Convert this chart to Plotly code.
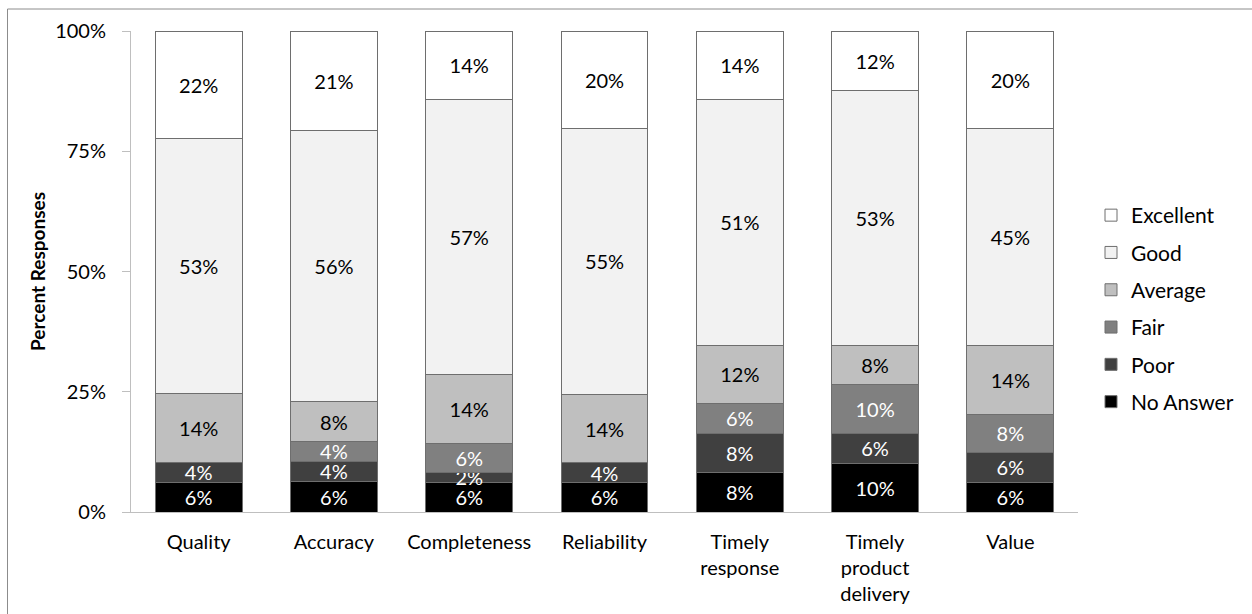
import plotly.graph_objects as go

# Survey categories shown along the x-axis
categories = ["Quality", "Accuracy", "Completeness", "Reliability",
              "Timely<br>response", "Timely<br>product<br>delivery", "Value"]

# Percent of responses per rating (stacked bottom to top)
no_answer = [6.2, 6.4, 6.2, 6.2, 8.2, 10.1, 6.2]
poor      = [4.1, 4.1, 2.0, 4.0, 8.2, 6.3, 6.2]
fair      = [0.0, 4.2, 6.1, 0.0, 6.2, 10.1, 7.9]
average   = [14.3, 8.2, 14.3, 14.3, 12.1, 8.2, 14.4]
good      = [53.0, 56.4, 57.2, 55.3, 51.1, 53.0, 45.1]
excellent = [22.4, 20.7, 14.2, 20.2, 14.2, 12.3, 20.2]

series = [
    ("No Answer", no_answer, "#000000", "#ffffff"),
    ("Poor", poor, "#404040", "#ffffff"),
    ("Fair", fair, "#808080", "#ffffff"),
    ("Average", average, "#bfbfbf", "#000000"),
    ("Good", good, "#f2f2f2", "#000000"),
    ("Excellent", excellent, "#ffffff", "#000000"),
]

FONT = "Lato"

fig = go.Figure()
for i, (name, vals, fill, txtcol) in enumerate(series):
    labels = [f"{round(v)}%" if v > 0 else "" for v in vals]
    fig.add_trace(go.Bar(
        name=name,
        x=categories,
        y=vals,
        text=labels,
        textposition="inside",
        insidetextanchor="middle",
        textangle=0,
        textfont=dict(family=FONT, size=20, color=txtcol),
        marker=dict(color=fill, line=dict(color="#6e6e6e", width=1)),
        legendgroup=name,
        legendrank=len(series) - i,
        hoverinfo="skip",
    ))

W, H = 1252, 614
L, R, T, B = 131, 174, 31, 102
pw, ph = W - L - R, H - T - B

def px_x(x):
    return (x - L) / pw

def px_y(y):
    return (H - B - y) / ph

fig.update_layout(
    barmode="stack",
    bargap=0.357,
    width=W, height=H,
    margin=dict(l=L, r=R, t=T, b=B, autoexpand=False),
    paper_bgcolor="white",
    plot_bgcolor="white",
    font=dict(family=FONT, size=20, color="#000000"),
    uniformtext=dict(minsize=20, mode="show"),
    showlegend=True,
    legend=dict(
        traceorder="grouped",
        x=px_x(1091), xanchor="left",
        y=px_y(195), yanchor="top",
        font=dict(family=FONT, size=21, color="#000000"),
        tracegroupgap=7,
        bgcolor="rgba(0,0,0,0)",
        itemclick=False,
    ),
    xaxis=dict(
        showline=True, linecolor="#bfbfbf", linewidth=1,
        ticks="", showgrid=False, automargin=False,
        tickfont=dict(family=FONT, size=20, color="#000000"),
        ticklabelstandoff=12,
    ),
    yaxis=dict(
        range=[0, 100],
        tickvals=[0, 25, 50, 75, 100],
        ticktext=["0%", "25%", "50%", "75%", "100%"],
        showline=True, linecolor="#bfbfbf", linewidth=1,
        ticks="outside", ticklen=8, tickcolor="#bfbfbf",
        ticklabelstandoff=12, automargin=False,
        showgrid=False, zeroline=False,
        tickfont=dict(family=FONT, size=20, color="#000000"),
        title=dict(text="<b>Percent Responses</b>", standoff=4,
                   font=dict(family=FONT, size=19, color="#000000")),
    ),
    shapes=[dict(
        type="rect", xref="paper", yref="paper",
        x0=px_x(7.5), x1=px_x(1270), y0=px_y(9), y1=px_y(640),
        line=dict(color="#8c8c8c", width=1), fillcolor="rgba(0,0,0,0)",
        layer="below",
    )],
)

fig.write_html("out.html")
